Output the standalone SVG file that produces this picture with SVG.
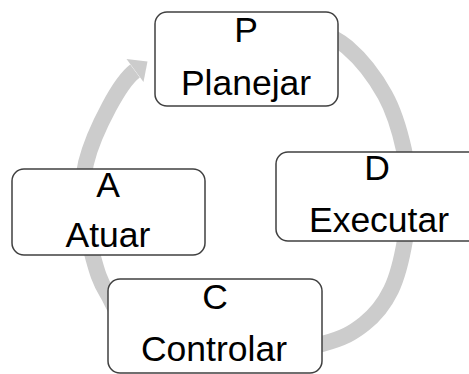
<svg xmlns="http://www.w3.org/2000/svg" width="469" height="374" viewBox="0 0 469 374">
<style>
.box{fill:#ffffff;stroke:#404040;stroke-width:1.5}
.t{font-family:"Liberation Sans",Arial,sans-serif;font-size:35.5px;fill:#000000;text-anchor:middle}
.arc{fill:none;stroke:#cccccc;stroke-width:16}
</style>
<rect width="469" height="374" fill="#ffffff"/>
<g id="connectors">
<path class="arc" d="M300,22 C316,30 332.8,34.8 347,47 C361.2,59.2 375.5,77.8 385,95 C394.5,112.2 400.3,133.3 404,150 C407.7,166.7 406.8,180 407,195 C407.2,210 407.7,224.2 405,240 C402.3,255.8 397.8,276 391,290 C384.2,304 375.5,315 364,324 C352.5,333 344.3,338 322,344 C299.7,350 260.3,361.5 230,360 C199.7,358.5 160.5,346.2 140,335 C119.5,323.8 114.8,306 107,293 C99.2,280 96.8,270.8 93,257 C89.2,243.2 85.2,225.7 84,210 C82.8,194.3 81.8,180.2 86,163 C90.2,145.8 100.8,122.3 109,107 C117.2,91.7 127,77 135,71"/>
<polygon points="126.5,59 147.5,61.5 143.5,82" fill="#cccccc"/>
</g>
<g id="node-P">
<rect class="box" x="155" y="12" width="183" height="94" rx="12"/>
<text class="t" x="246" y="42">P</text>
<text class="t" x="246" y="95">Planejar</text>
</g>
<g id="node-D">
<rect class="box" x="276" y="152" width="204" height="89" rx="12"/>
<text class="t" x="377" y="180">D</text>
<text class="t" x="379" y="232">Executar</text>
</g>
<g id="node-A">
<rect class="box" x="12" y="169" width="193" height="86" rx="12"/>
<text class="t" x="108" y="197">A</text>
<text class="t" x="108" y="247">Atuar</text>
</g>
<g id="node-C">
<rect class="box" x="108" y="279" width="214" height="94" rx="12"/>
<text class="t" x="215" y="309">C</text>
<text class="t" x="214" y="361">Controlar</text>
</g>
</svg>
